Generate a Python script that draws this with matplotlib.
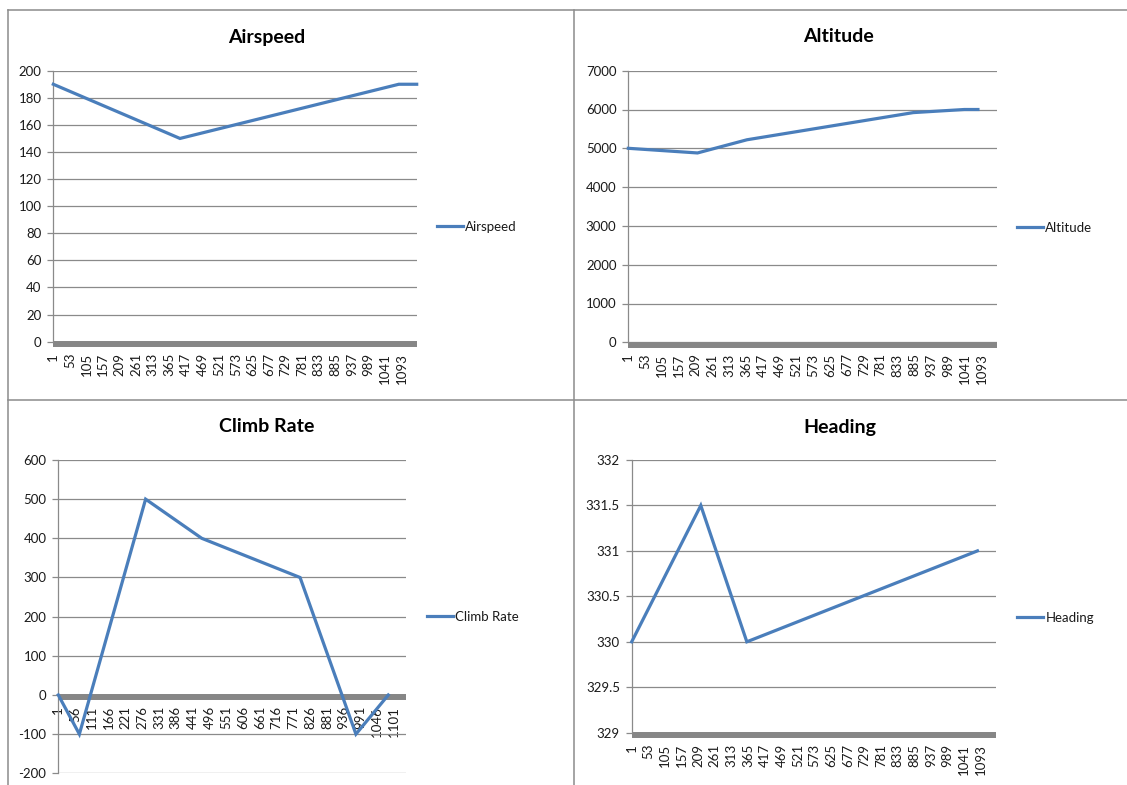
import matplotlib
matplotlib.use("Agg")
import matplotlib.pyplot as plt
from matplotlib.lines import Line2D
from matplotlib.transforms import ScaledTranslation
from matplotlib.ticker import FuncFormatter

plt.rcParams["font.family"] = ["Lato", "DejaVu Sans"]

# number of samples on the category axis
n_samples = 1140

# breakpoints of each trace: sample index -> value
airspeed_idx = [1, 398, 1084, 1140]
airspeed_val = [190, 150, 190, 190]

altitude_idx = [1, 215, 368, 882, 1040, 1082]
altitude_val = [5000, 4880, 5220, 5920, 6000, 6000]

climb_idx = [1, 70, 287, 471, 793, 976, 1082]
climb_val = [0, -100, 500, 400, 300, -100, 0]

heading_idx = [1, 217, 361, 1082]
heading_val = [330, 331.5, 330, 331]

# category labels shown under each axis
labels_52 = list(range(1, 1094, 52))
labels_55 = list(range(1, 1102, 55))

W, H = 1127, 785
fig = plt.figure(figsize=(W / 100, H / 100), dpi=100)

BLUE = "#4A7EBB"
GRID = "#8a8a8a"
BAR = "#868686"
TXT = "#1a1a1a"


def rect(l, t, r, b):
    return [l / W, 1 - b / H, (r - l) / W, (b - t) / H]


charts = [
    ("Airspeed", airspeed_idx, airspeed_val, labels_52, (0, 200, 20), 0,
     rect(53.3, 70.7, 416.7, 341.7), (267, 37), (437, 227)),
    ("Altitude", altitude_idx, altitude_val, labels_52, (0, 7000, 1000), 0,
     rect(628.3, 70.7, 996.7, 342.3), (838, 37), (1017, 228)),
    ("Climb Rate", climb_idx, climb_val, labels_55, (-200, 600, 100), 0,
     rect(58.3, 460, 406, 773.3), (267, 427), (427, 617)),
    ("Heading", heading_idx, heading_val, labels_52, (329, 332, 0.5), 329,
     rect(631.7, 460, 996, 732.7), (840, 427), (1017, 617.5)),
]

for name, xs, ys, xlab, (lo, hi, step), cross, pos, tpos, lpos in charts:
    ax = fig.add_axes(pos)
    ax.set_xlim(1, n_samples)
    ax.set_ylim(lo, hi)
    yt = []
    v = lo
    while v <= hi + 1e-9:
        yt.append(v)
        v += step
    ax.set_yticks(yt)
    ax.yaxis.set_major_formatter(FuncFormatter(lambda v, p: f"{v:g}"))
    ax.grid(axis="y", color=GRID, lw=0.9)
    ax.set_axisbelow(True)

    ax.set_xticks(xlab)
    ax.set_xticklabels([str(v) for v in xlab])
    ax.tick_params(axis="x", length=0, pad=8, labelrotation=90,
                   labelsize=9.5, labelcolor=TXT)
    ax.tick_params(axis="y", length=4, width=0.9, color=GRID, pad=4.5,
                   labelsize=9.5, labelcolor=TXT)

    for s in ("top", "right"):
        ax.spines[s].set_visible(False)
    ax.spines["left"].set_color(GRID)
    ax.spines["left"].set_linewidth(0.9)
    ax.spines["bottom"].set_position(("data", cross))
    ax.spines["bottom"].set_visible(False)

    # thick category axis bar, sitting just under the crossing value
    shift = ScaledTranslation(0, -2.5 / 100, fig.dpi_scale_trans)
    ax.plot([0, 1], [cross, cross], color=BAR, lw=4.3, solid_capstyle="butt",
            transform=ax.get_yaxis_transform() + shift, zorder=1.5,
            clip_on=False)

    line, = ax.plot(xs, ys, color=BLUE, lw=2.3, label=name, zorder=3,
                    clip_on=False, solid_joinstyle="miter")

    fig.text(tpos[0] / W, 1 - tpos[1] / H, name, ha="center", va="center",
             fontsize=14, fontweight="bold", color="black")
    ax.legend(handles=[line], loc="center left",
              bbox_to_anchor=(lpos[0] / W, 1 - lpos[1] / H),
              bbox_transform=fig.transFigure, frameon=False, fontsize=9.5,
              handlelength=2.0, handletextpad=0.15, borderpad=0,
              borderaxespad=0, labelcolor=TXT)

# chart borders
frame = "#8c8c8c"
for xd, yd in [([8, 8], [10, H]), ([8, W], [10, 10]), ([574, 574], [10, H]),
               ([8, W], [400, 400])]:
    fig.add_artist(Line2D([x / W for x in xd], [1 - y / H for y in yd],
                          color=frame, lw=1.1, transform=fig.transFigure))

fig.savefig("out.png", dpi=100)
